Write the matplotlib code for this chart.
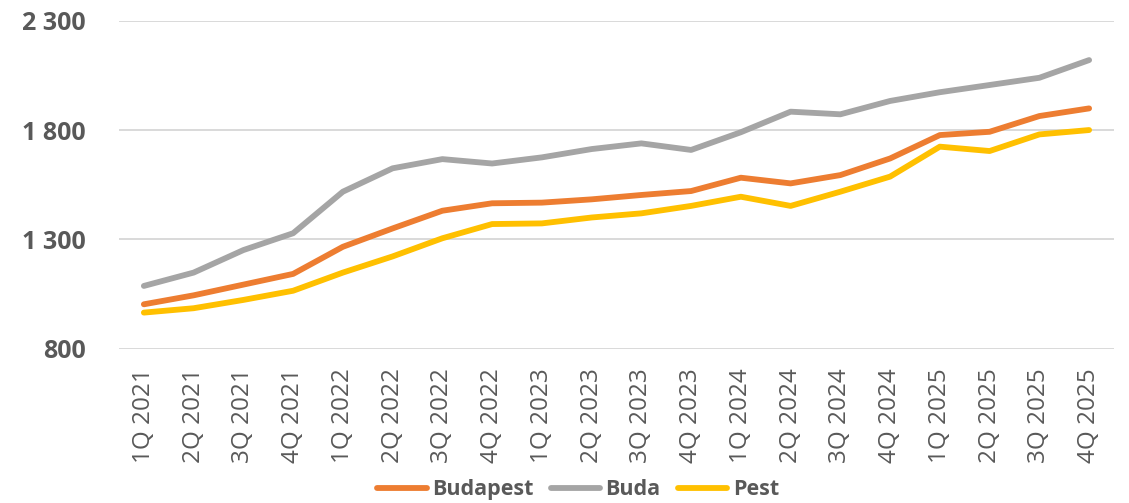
import numpy as np
import matplotlib
matplotlib.use('Agg')
import matplotlib.pyplot as plt

#####################################################################
# DATA
#####################################################################

quarters = ['1Q 2021', '2Q 2021', '3Q 2021', '4Q 2021',
            '1Q 2022', '2Q 2022', '3Q 2022', '4Q 2022',
            '1Q 2023', '2Q 2023', '3Q 2023', '4Q 2023',
            '1Q 2024', '2Q 2024', '3Q 2024', '4Q 2024',
            '1Q 2025', '2Q 2025', '3Q 2025', '4Q 2025']

budapest = [1003, 1044, 1093, 1142, 1266, 1350, 1431, 1465, 1468, 1483,
            1503, 1521, 1582, 1556, 1594, 1670, 1777, 1792, 1864, 1899]
buda = [1087, 1148, 1251, 1328, 1518, 1625, 1667, 1647, 1675, 1713,
        1739, 1709, 1790, 1884, 1872, 1933, 1973, 2006, 2039, 2120]
pest = [965, 985, 1023, 1065, 1148, 1222, 1305, 1370, 1373, 1400,
        1419, 1453, 1495, 1453, 1518, 1587, 1724, 1704, 1780, 1800]

yticks = [800, 1300, 1800, 2300]
ytick_labels = ['800', '1 300', '1 800', '2 300']

#####################################################################
# PLOT
#####################################################################

TEXT = '#595959'
plt.rcParams['font.family'] = ['Open Sans', 'DejaVu Sans']

fig = plt.figure(figsize=(11.29, 5.03), dpi=100)
ax = fig.add_axes([0.1054, 0.3068, 0.8813, 0.652])

x = np.arange(len(quarters))
series = [(budapest, 'Budapest', '#ED7D31'),
          (buda, 'Buda', '#A5A5A5'),
          (pest, 'Pest', '#FFC000')]
for values, name, color in series:
	ax.plot(x, values, color=color, lw=4.2, label=name,
	        solid_capstyle='round', solid_joinstyle='round', zorder=3)

ax.set_xlim(-0.5, len(quarters) - 0.5)
ax.set_ylim(800, 2300)
ax.set_yticks(yticks)
ax.set_yticklabels(ytick_labels, fontsize=18, fontweight='bold', color=TEXT)
ax.set_xticks(x)
ax.set_xticklabels(quarters, rotation=90, fontsize=17.5, color=TEXT)
ax.tick_params(axis='both', length=0)
ax.tick_params(axis='x', pad=14)
ax.tick_params(axis='y', pad=24)

ax.grid(axis='y', color='#D9D9D9', lw=1.4, zorder=0)
for side in ax.spines.values():
	side.set_visible(False)

leg = fig.legend(loc='center', bbox_to_anchor=(0.512, 0.026), ncol=3,
                 frameon=False, handlelength=2.3, handletextpad=0.25,
                 columnspacing=0.8, prop={'size': 15.5, 'weight': 'bold'})
for txt in leg.get_texts():
	txt.set_color(TEXT)

fig.savefig('out.png', dpi=100)
